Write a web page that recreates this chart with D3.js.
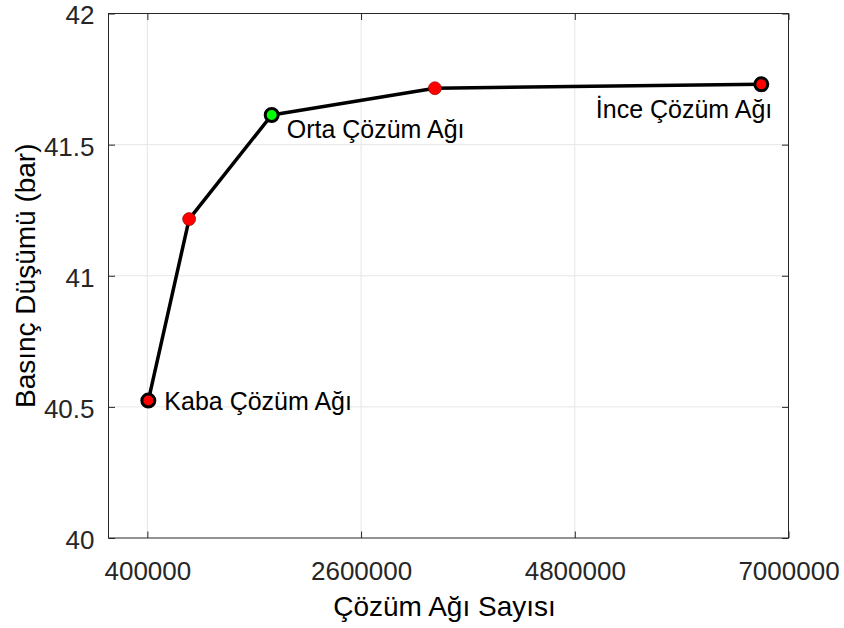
<!DOCTYPE html>
<html>
<head>
<meta charset="utf-8">
<script src="https://cdn.jsdelivr.net/npm/d3@7"></script>
<style>
  html, body { margin: 0; padding: 0; background: #ffffff; }
  svg { display: block; }
  text { font-family: "Liberation Sans", Arial, Helvetica, sans-serif; }
</style>
</head>
<body>
<script>
// Mesh convergence data: cell count vs. pressure drop
const meshCounts   = [410000, 830000, 1680000, 3360000, 6720000];
const pressureDrop = [40.524, 41.216, 41.613, 41.715, 41.730];
const markerFill   = ["#ff0000", "#ff0000", "#00ff00", "#ff0000", "#ff0000"];
const markerEdged  = [true, false, true, false, true];

// Named mesh levels and the point each one describes
const meshNames  = ["Kaba Çözüm Ağı", "Orta Çözüm Ağı", "İnce Çözüm Ağı"];
const meshPoints = [0, 2, 4];

const xTicks = [400000, 2600000, 4800000, 7000000];
const yTicks = [40, 40.5, 41, 41.5, 42];
const xDomain = [0, 7000000];
const yDomain = [40, 42];

const W = 844, H = 628;
const plot = { left: 108.5, right: 788.5, top: 13.5, bottom: 538 };

const svg = d3.select("body").append("svg")
  .attr("width", W).attr("height", H);

const x = d3.scaleLinear().domain(xDomain).range([plot.left, plot.right]);
const y = d3.scaleLinear().domain(yDomain).range([plot.bottom, plot.top]);

const axisColor = "#262626";
const tickLen = 6.5;

// Grid
const grid = svg.append("g").attr("stroke", "#e6e6e6").attr("stroke-width", 1);
grid.selectAll("line.gx").data(xTicks.filter(t => t > xDomain[0] && t < xDomain[1]))
  .join("line")
  .attr("x1", d => x(d)).attr("x2", d => x(d))
  .attr("y1", plot.top).attr("y2", plot.bottom);
grid.selectAll("line.gy").data(yTicks.filter(t => t > yDomain[0] && t < yDomain[1]))
  .join("line")
  .attr("x1", plot.left).attr("x2", plot.right)
  .attr("y1", d => y(d)).attr("y2", d => y(d));

// Axes with inward ticks, mirrored on the top and right edges
const fmtX = d3.format("d");
const fmtY = v => String(v);

const gx = svg.append("g").attr("transform", `translate(0,${plot.bottom})`)
  .call(d3.axisBottom(x).tickValues(xTicks).tickFormat(fmtX).tickSizeInner(-tickLen).tickSizeOuter(0).tickPadding(24));
const gxTop = svg.append("g").attr("transform", `translate(0,${plot.top})`)
  .call(d3.axisTop(x).tickValues(xTicks).tickFormat("").tickSizeInner(-tickLen).tickSizeOuter(0));
const gy = svg.append("g").attr("transform", `translate(${plot.left},0)`)
  .call(d3.axisLeft(y).tickValues(yTicks).tickFormat(fmtY).tickSizeInner(-tickLen).tickSizeOuter(0).tickPadding(14));
const gyRight = svg.append("g").attr("transform", `translate(${plot.right},0)`)
  .call(d3.axisRight(y).tickValues(yTicks).tickFormat("").tickSizeInner(-tickLen).tickSizeOuter(0));

[gx, gxTop, gy, gyRight].forEach(g => {
  g.select(".domain").remove();
  g.selectAll(".tick line").attr("stroke", axisColor).attr("stroke-width", 1);
  g.selectAll(".tick text")
    .attr("fill", axisColor)
    .style("font-family", "'Liberation Sans', Arial, Helvetica, sans-serif")
    .style("font-size", "26px");
});
// Nudge y tick labels slightly down so the top one stays inside the page
gy.selectAll(".tick text").attr("dy", "0.4em");

// Box frame
svg.append("rect")
  .attr("x", plot.left).attr("y", plot.top)
  .attr("width", plot.right - plot.left).attr("height", plot.bottom - plot.top)
  .attr("fill", "none").attr("stroke", axisColor).attr("stroke-width", 1);

// Axis labels
svg.append("text")
  .attr("x", (plot.left + plot.right) / 2 - 4).attr("y", 616)
  .attr("text-anchor", "middle")
  .attr("fill", "#000")
  .style("font-size", "28px")
  .text("Çözüm Ağı Sayısı");

svg.append("text")
  .attr("transform", `translate(35,${(plot.top + plot.bottom) / 2}) rotate(-90)`)
  .attr("text-anchor", "middle")
  .attr("fill", "#000")
  .style("font-size", "28px")
  .text("Basınç Düşümü (bar)");

// Convergence line
const pts = meshCounts.map((m, i) => [m, pressureDrop[i]]);
svg.append("path")
  .datum(pts)
  .attr("fill", "none")
  .attr("stroke", "#000")
  .attr("stroke-width", 3.5)
  .attr("stroke-linejoin", "round")
  .attr("d", d3.line().x(d => x(d[0])).y(d => y(d[1])));

// Markers
svg.append("g").selectAll("circle").data(pts).join("circle")
  .attr("cx", d => x(d[0])).attr("cy", d => y(d[1]))
  .attr("r", 6.5)
  .attr("fill", (d, i) => markerFill[i])
  .attr("stroke", (d, i) => markerEdged[i] ? "#000" : "#7a0000")
  .attr("stroke-width", (d, i) => markerEdged[i] ? 3 : 0.6);

// Mesh level annotations
const labelOffsets = [
  { dx: 16, dy: 9, anchor: "start" },
  { dx: 15, dy: 23, anchor: "start" },
  { dx: 11, dy: 34, anchor: "end" }
];
svg.append("g").selectAll("text").data(meshNames).join("text")
  .attr("x", (d, i) => x(meshCounts[meshPoints[i]]) + labelOffsets[i].dx)
  .attr("y", (d, i) => y(pressureDrop[meshPoints[i]]) + labelOffsets[i].dy)
  .attr("text-anchor", (d, i) => labelOffsets[i].anchor)
  .attr("fill", "#000")
  .style("font-size", "25px")
  .text(d => d);
</script>
</body>
</html>
